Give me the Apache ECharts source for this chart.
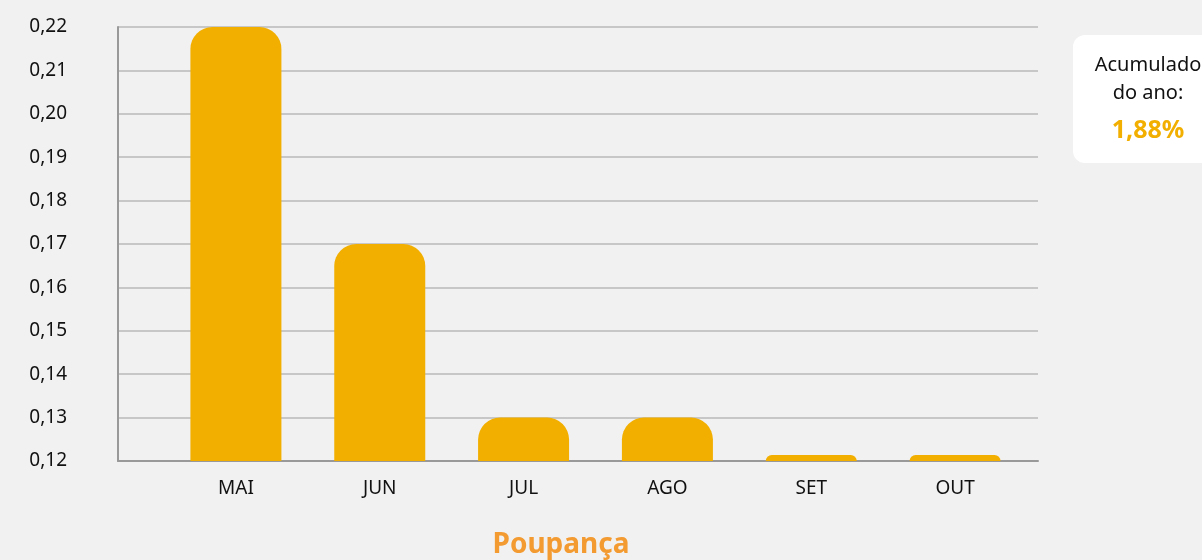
<!DOCTYPE html>
<html>
<head>
<meta charset="utf-8">
<script src="https://cdn.jsdelivr.net/npm/echarts@6/dist/echarts.min.js"></script>
<style>
  html, body { margin: 0; padding: 0; background: #f1f1f1; }
  #chart { width: 1202px; height: 560px; }
</style>
</head>
<body>
<div id="chart"></div>
<script>
const months = ['MAI', 'JUN', 'JUL', 'AGO', 'SET', 'OUT']
const values = [0.22, 0.17, 0.13, 0.13, 0.1214, 0.1214]
const yMin = 0.12
const yMax = 0.22
const yStep = 0.01
const totalLabel = '1,88%'
const chartTitle = 'Poupança'

const barColor = '#f2af00'
const font = 'Noto Sans'

const chart = echarts.init(document.getElementById('chart'))

const option = {
  backgroundColor: '#f1f1f1',
  animation: false,
  title: {
    text: chartTitle,
    left: 556,
    top: 526,
    textAlign: 'center',
    textStyle: { color: '#f39a30', fontSize: 28, fontWeight: 'bold', fontFamily: font }
  },
  grid: [
    // frame + gridlines
    { left: 118, right: 164, top: 27, bottom: 99 },
    // bars
    { left: 164, right: 175, top: 27, bottom: 99 }
  ],
  xAxis: [
    {
      type: 'category',
      gridIndex: 0,
      data: months,
      axisLine: { show: true, lineStyle: { color: '#999', width: 2 } },
      axisTick: { show: false },
      axisLabel: { show: false }
    },
    {
      type: 'category',
      gridIndex: 1,
      data: months,
      axisLine: { show: false },
      axisTick: { show: false },
      axisLabel: { color: '#111', fontSize: 19, fontFamily: font, margin: 18 }
    }
  ],
  yAxis: [
    {
      type: 'value',
      gridIndex: 0,
      min: yMin,
      max: yMax,
      interval: yStep,
      axisLine: { show: true, lineStyle: { color: '#999', width: 2 } },
      axisTick: { show: false },
      splitLine: { lineStyle: { color: '#b8b8b8', width: 1.5 } },
      axisLabel: {
        color: '#111',
        fontSize: 19,
        fontFamily: font,
        margin: 51,
        formatter: (v) => v.toFixed(2).replace('.', ',')
      }
    },
    {
      type: 'value',
      gridIndex: 1,
      min: yMin,
      max: yMax,
      interval: yStep,
      show: false
    }
  ],
  series: [
    {
      type: 'bar',
      xAxisIndex: 1,
      yAxisIndex: 1,
      data: values,
      barWidth: 91,
      itemStyle: { color: barColor, borderRadius: [22, 22, 0, 0] }
    }
  ],
  graphic: [
    {
      type: 'rect',
      left: 1073,
      top: 35,
      shape: { width: 150, height: 128, r: 12 },
      style: { fill: '#ffffff' }
    },
    {
      type: 'text',
      x: 1148,
      y: 79,
      style: {
        text: 'Acumulado\ndo ano:',
        fill: '#111',
        font: '20px "Noto Sans"',
        align: 'center',
        verticalAlign: 'middle',
        lineHeight: 28
      },
      z: 10
    },
    {
      type: 'text',
      x: 1148,
      y: 131,
      style: {
        text: totalLabel,
        fill: barColor,
        font: 'bold 25px "Noto Sans"',
        align: 'center',
        verticalAlign: 'middle'
      },
      z: 10
    }
  ]
}

chart.setOption(option)
</script>
</body>
</html>
